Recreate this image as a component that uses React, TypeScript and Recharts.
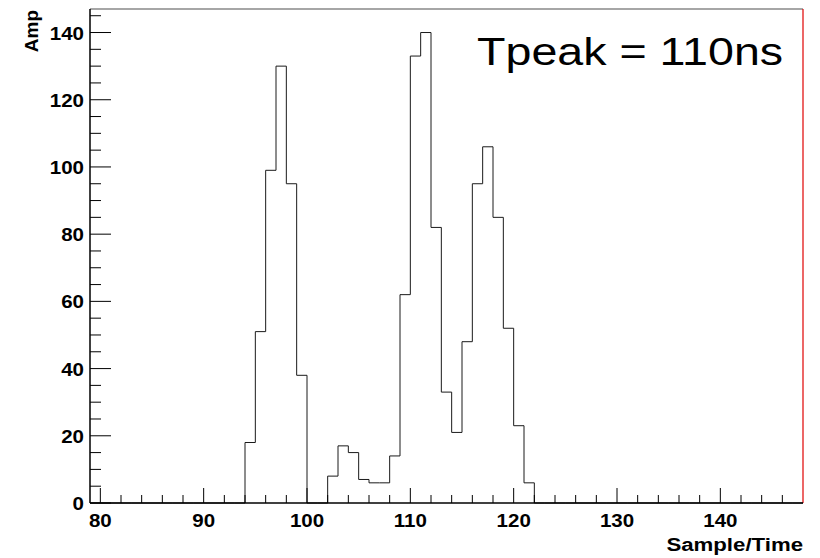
import React from 'react';
import { LineChart, Line, XAxis, YAxis, ReferenceLine } from 'recharts';

// one value per 1-sample bin, bins start at 79
const sampleStart = 79;
const ampCounts = [
  0, 0, 0, 0, 0, 0, 0, 0, 0, 0, 0, 0, 0, 0, 0,
  18, 51, 99, 130, 95, 38, 0, 0, 8, 17, 15, 7, 6, 6, 14,
  62, 133, 140, 82, 33, 21, 48, 95, 106, 85, 52, 23, 6,
  0, 0, 0, 0, 0, 0, 0, 0, 0, 0, 0, 0, 0, 0, 0, 0, 0, 0, 0, 0, 0, 0, 0, 0, 0, 0, 0,
];

const xTicks = [80, 82, 84, 86, 88, 90, 92, 94, 96, 98, 100, 102, 104, 106, 108, 110, 112, 114, 116, 118,
  120, 122, 124, 126, 128, 130, 132, 134, 136, 138, 140, 142, 144, 146];
const yTicks = [0, 5, 10, 15, 20, 25, 30, 35, 40, 45, 50, 55, 60, 65, 70, 75, 80, 85, 90, 95, 100,
  105, 110, 115, 120, 125, 130, 135, 140, 145];

const xMax = 148;
const yMax = 147;

const data = ampCounts.map((amp, i) => ({ sample: sampleStart + i, amp }));

const font = '"Liberation Sans", Arial, Helvetica, sans-serif';

const XTick = (props: any) => {
  const { x, y, payload } = props;
  const major = payload.value % 10 === 0;
  return (
    <g>
      <line x1={x} x2={x} y1={y} y2={y - (major ? 15 : 8)} stroke="#000" strokeWidth={1} />
      {major && (
        <text
          transform={`translate(${x},${y + 24}) scale(1.08,1)`}
          textAnchor="middle"
          fontFamily={font}
          fontWeight="bold"
          fontSize={19}
          fill="#000"
        >
          {payload.value}
        </text>
      )}
    </g>
  );
};

const YTick = (props: any) => {
  const { x, y, payload } = props;
  const major = payload.value % 20 === 0;
  return (
    <g>
      <line x1={x} x2={x + (major ? 21 : 11)} y1={y} y2={y} stroke="#000" strokeWidth={1} />
      {major && (
        <text
          transform={`translate(${x - 6},${y + 7}) scale(1.08,1)`}
          textAnchor="end"
          fontFamily={font}
          fontWeight="bold"
          fontSize={19}
          fill="#000"
        >
          {payload.value}
        </text>
      )}
    </g>
  );
};

const XTitle = (props: any) => {
  const { x, y, width } = props.viewBox;
  return (
    <text
      transform={`translate(${x + width},${y + 48}) scale(1.17,1)`}
      textAnchor="end"
      fontFamily={font}
      fontWeight="bold"
      fontSize={19}
      fill="#000"
    >
      Sample/Time
    </text>
  );
};

const YTitle = (props: any) => {
  const { y } = props.viewBox;
  return (
    <text
      transform={`translate(38,${y + 1}) rotate(-90)`}
      textAnchor="end"
      fontFamily={font}
      fontWeight="bold"
      fontSize={19}
      fill="#000"
    >
      Amp
    </text>
  );
};

const App = () => {
  return (
    <div style={{ position: 'absolute', left: 0, top: 0, width: 820, height: 558, background: '#fff' }}>
      <LineChart width={820} height={558} data={data} margin={{ top: 9, right: 17, left: 0, bottom: 0 }}>
        <XAxis
          dataKey="sample"
          type="number"
          domain={[sampleStart, xMax]}
          ticks={xTicks}
          interval={0}
          height={55}
          tickLine={false}
          tickSize={0}
          tickMargin={0}
          tick={XTick}
          axisLine={{ stroke: '#000', strokeWidth: 1.5 }}
          label={{ content: XTitle }}
        />
        <YAxis
          type="number"
          domain={[0, yMax]}
          ticks={yTicks}
          interval={0}
          width={90}
          tickLine={false}
          tickSize={0}
          tickMargin={0}
          tick={YTick}
          axisLine={{ stroke: '#000', strokeWidth: 1.5 }}
          label={{ content: YTitle }}
        />
        <ReferenceLine y={yMax} stroke="#888" strokeWidth={1.5} />
        <ReferenceLine x={xMax} stroke="#e00000" strokeWidth={1.2} />
        <Line
          dataKey="amp"
          type="stepAfter"
          dot={false}
          activeDot={false}
          stroke="#1a1a1a"
          strokeWidth={1}
          isAnimationActive={false}
        />
        <text
          transform="translate(477,65) scale(1.18,1)"
          fontFamily={font}
          fontSize={39.5}
          fill="#000"
        >
          Tpeak = 110ns
        </text>
      </LineChart>
    </div>
  );
};

export default App;
